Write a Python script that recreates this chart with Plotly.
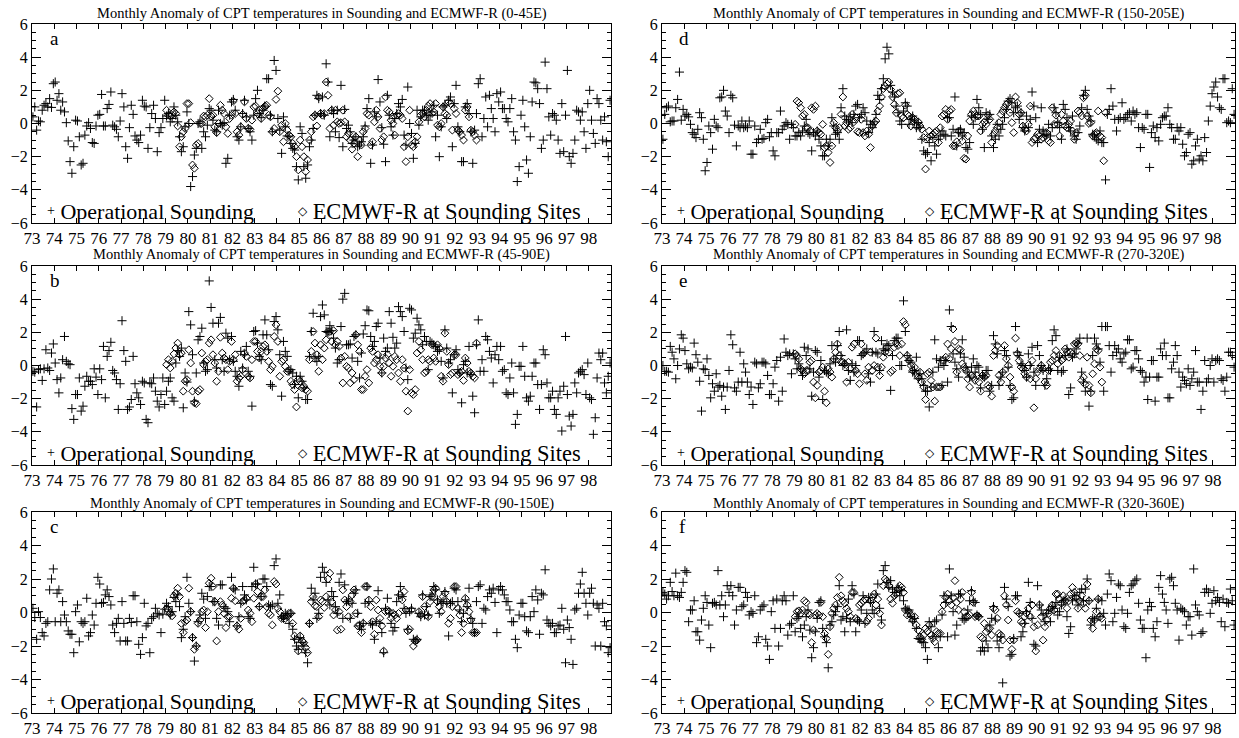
import plotly.graph_objects as go

# ---------------- data (monthly anomalies, K) ----------------
snd_start = 73          # Operational sounding: Jan 1973 ...
era_start = 79          # ECMWF-R: Jan 1979 ...
year_ticks = list(range(73, 99))
year_labels = [str(y) for y in year_ticks]
y_ticks = [-6, -4, -2, 0, 2, 4, 6]

snd_a = [
 0.4, 1.0, -0.4, 0.15, 0.1, 0.8, 1.1, 1.2, 1.0, 1.5, 0.97, 2.4,
 2.5, 1.4, 1.8, 0.8, 1.3, 0.7, 0.05, -1.05, -2.3, -3.0, -1.4, 0.2,
 0.15, -0.8, -2.5, -2.4, -0.7, -0.15, 0.05, -0.3, -1.15, -1.2, -0.15, 0.5,
 0.55, 1.75, -0.15, -0.15, 0.9, 1.15, 1.9, -0.1, -0.2, -0.35, -0.8, 0.15,
 1.8, 1.0, -1.4, -2.1, -0.25, 1.1, 0.55, -0.75, -1.0, -1.15, -0.7, 1.4,
 1.05, 1.0, -1.5, -0.25, 0.6, 1.1, 0.3, -1.7, -0.55, -0.25, 0.3, 1.4,
 0.45, 0.6, 0.1, 0.3, 1.0, 0.5, 0.1, -0.8, -1.7, -1.4, -0.2, 0.7,
 0.0, -3.8, -3.2, -1.9, -1.5, 0.0, 0.1, -1.5, -0.5, -0.8, -0.1, 0.9,
 0.8, 0.2, -0.4, -0.5, 0.8, 0.0, -0.1, 0.05, -2.4, -2.1, 0.5, 1.3,
 1.45, 0.8, -0.8, -1.0, -0.2, 0.6, 1.4, 0.4, -0.3, -0.5, -1.0, 0.5,
 1.5, 2.0, 0.6, 0.35, 0.8, 1.05, 2.7, 2.7, 0.5, -0.5, 3.8, 3.2,
 0.3, -0.4, -1.8, 0.4, -0.2, -0.75, -0.8, -1.2, -1.5, -1.6, -2.6, -3.4,
 -0.2, -0.6, -2.6, -3.3, -2.5, -1.4, -1.0, -0.3, 0.5, 1.7, 1.5, 0.6,
 1.6, 0.5, 3.6, 2.5, -0.8, 0.8, 0.6, -0.5, 0.8, -0.85, 2.3, -1.4,
 0.85, -0.3, -0.1, -0.5, -1.2, -1.0, -0.8, -1.4, -1.3, -1.1, -0.8, -0.15,
 0.9, 1.5, -2.4, -1.3, 0.7, 0.4, 2.65, 1.3, -0.25, -1.25, -2.3, 1.7,
 0.5, -0.2, -0.7, 0.3, 0.6, 1.2, 1.0, 1.45, -0.7, -1.3, 2.2, 0.0,
 -0.6, -2.1, -1.2, 0.8, -0.1, 0.4, 0.8, 0.8, 0.5, 0.2, 0.5, 0.7,
 1.1, -0.8, 0.5, -2.0, -0.2, 1.0, 1.1, 0.3, 1.4, 1.6, -1.4, 1.2,
 2.3, -0.2, -0.5, -2.3, -2.3, 1.0, 1.2, 0.6, -0.5, -2.4, -0.4, 0.6,
 2.4, 2.7, -0.8, 0.3, 1.6, -0.2, 1.7, 0.9, 0.3, -0.5, 1.8, 1.3,
 1.9, 0.9, 0.9, 0.3, 0.1, 0.9, 1.5, -0.5, -1.0, -3.5, -2.6, 0.5,
 1.4, -0.2, -2.2, -3.0, -0.8, 1.3, 2.5, 2.45, 2.1, 1.2, -1.5, -1.0,
 3.7, 2.1, 0.4, -0.7, 0.6, 0.5, 0.2, -1.0, -1.8, 1.2, -1.7, 0.5,
 3.2, -2.0, -2.4, -1.8, -1.0, 0.8, 0.7, 0.2, 0.7, -0.5, -1.5, 1.2,
 2.0, 0.2, -0.6, -1.2, 1.5, 1.2, 0.2, -1.0, 0.4, -1.1, -2.0, 1.4,
]
era_a = [
 0.8, 0.5, 0.45, 0.5, 0.7, 0.6, -0.15, -1.4, -0.8, -0.5, -0.3, 1.2,
 1.2, 0.05, -2.5, -2.7, -1.3, -1.2, 0.0, 0.0, 0.45, 0.4, 0.5, 1.5,
 0.45, 0.5, -0.2, -0.55, 0.0, 1.1, 0.8, 0.6, -0.2, -0.6, 0.3, 0.5,
 1.35, 0.6, -0.5, -0.7, -0.2, 0.55, 1.3, 0.3, -0.3, -0.35, 0.2, 1.0,
 1.05, 0.6, 0.8, 0.3, 0.9, 1.05, 1.1, 0.5, 0.4, -0.5, -0.3, 1.45,
 1.95, -0.5, -0.1, -1.1, 0.0, -0.4, -0.7, -0.8, -1.2, -1.4, -2.0, -2.8,
 -1.0, -1.4, -2.0, -2.9, -2.2, -1.0, -0.5, 0.4, 0.5, -0.15, 1.6, 0.6,
 0.5, 0.6, 2.5, 1.7, -0.3, 0.8, -0.1, 0.8, 0.1, 0.0, 0.05, 0.8,
 0.1, -0.8, -0.6, -1.0, -1.55, -1.2, -0.8, -2.0, -1.0, -1.3, -0.5, -0.3,
 0.6, 0.5, -1.3, -1.1, 0.1, 0.8, 0.4, -0.3, -1.0, -0.8, 1.6, 0.8,
 0.7, 0.2, 0.0, -0.7, 0.5, 0.6, 0.5, 0.3, -1.4, -2.3, -0.8, 0.8,
 -1.3, -1.4, -1.1, -0.8, 0.1, 0.5, 0.6, 0.4, 0.8, 1.05, 1.2, 0.6,
 0.7, 1.2, -0.1, -0.2, 0.0, 1.0, 0.6, 0.5, 1.3, 1.2, -0.4, 0.9,
 0.6, -0.4, -0.5, -0.7, -1.0, 0.8, 1.0, 0.4, -0.4, -0.5, -0.7, -1.0,
]

snd_b = [
 -0.35, -0.4, -2.5, -0.25, -0.2, -0.9, -0.2, 0.95, -0.15, -0.3, 0.75, 1.3,
 0.15, -0.85, -1.65, -0.75, 0.35, 1.75, 0.25, 0.1, 0.05, -2.6, -3.25, -1.75,
 -1.75, -0.75, -2.75, -2.45, -1.25, -0.65, -0.95, -0.95, -1.15, -0.2, -0.7, -1.75,
 -0.2, -0.85, 1.15, -1.95, 0.55, 0.9, 1.4, -0.3, -0.45, -0.85, -2.65, -1.1,
 2.7, 0.9, 0.25, -2.65, -2.5, -2.05, 0.55, -1.1, -1.65, -1.95, -2.35, -0.95,
 -1.05, -3.25, -3.45, -1.05, -1.1, -0.75, -1.55, -2.15, -2.5, -1.75, -0.75, -2.35,
 -1.55, -0.95, -0.75, -1.95, -2.15, 0.15, 0.9, 0.55, 1.05, -2.55, -0.45, -1.0,
 3.25, 2.45, 0.65, -2.15, -0.45, 1.55, 1.75, 2.25, 0.15, -0.35, -0.25, 5.1,
 3.5, 2.55, 0.35, -0.15, 2.55, 2.9, 0.35, -0.35, 1.95, 1.65, 0.35, 1.75,
 0.25, -0.35, -0.65, -1.25, 0.85, -0.15, 0.65, 1.15, -0.35, -0.65, -2.45, 2.05,
 2.1, 1.35, 0.55, 0.35, 1.85, 2.75, 1.85, 0.95, -1.15, -1.25, 2.65, 2.95,
 2.15, 0.65, -1.85, 1.45, 0.85, 0.55, -0.35, -0.25, -0.45, -1.15, -0.65, -1.95,
 -0.65, -0.95, -1.35, -2.05, -2.05, 0.55, 2.05, 3.15, 0.45, 0.25, 0.55, 2.95,
 3.65, 3.05, 2.05, 2.0, 2.4, 2.1, 1.65, 1.05, 0.15, 0.35, 2.35, 4.0,
 4.35, 1.25, 1.25, 1.3, 0.45, 1.75, 1.85, 0.25, -0.75, 0.75, 1.9, 2.4,
 3.35, 3.3, 1.75, 1.15, 1.45, 2.35, 2.55, 0.45, -0.45, 1.65, 0.85, 1.05,
 3.25, 2.55, 1.7, 1.05, 1.35, 3.55, 3.25, 2.95, 2.05, -0.15, -0.85, 3.45,
 3.35, 1.65, 1.95, 2.85, 2.45, 2.15, 1.25, 1.75, 1.45, -0.25, 1.45, 1.35,
 1.25, 1.15, 0.85, 0.95, 0.25, -0.75, 2.15, 1.05, 0.15, 0.35, -1.65, 0.65,
 0.95, -0.25, -0.45, -2.25, 0.05, 0.25, -0.45, 1.15, -0.55, -1.85, -2.85, 1.25,
 2.75, -0.35, 0.35, -0.35, 1.75, 1.55, 0.85, 0.45, -1.05, 0.65, 1.15, 0.35,
 1.15, -0.35, -0.25, -1.65, -1.75, -0.75, 0.15, -1.65, -3.55, -2.95, -0.05, -0.05,
 1.15, -0.65, -1.95, -2.15, -1.85, -0.65, 0.15, 0.15, -1.15, -2.65, -1.15, 0.95,
 0.65, -1.05, -1.95, -1.95, -1.55, -2.65, -2.95, -1.95, -1.55, -3.95, -1.25, 1.75,
 -1.75, -3.05, -3.65, -2.95, -1.05, -1.65, -0.45, -0.35, -0.25, -0.55, -1.75, 0.15,
 -1.95, -2.05, -4.15, -3.15, -0.75, 0.75, 0.35, 0.75, -1.05, -1.65, -0.65, 0.15,
]
era_b = [
 0.05, 0.35, -0.15, 0.25, 0.7, 1.05, 1.35, 0.65, 0.75, -1.55, -0.95, -0.85,
 0.95, 0.15, -1.55, -2.25, -2.3, -1.55, -1.45, 0.75, 0.05, 0.25, 0.35, 1.35,
 1.55, 0.65, 0.15, -0.95, -0.35, 1.7, 0.75, 0.45, 0.35, -0.25, 0.25, 1.45,
 0.35, 0.65, -0.95, -0.75, -0.65, -0.25, 0.75, 0.55, -0.65, -0.75, 0.35, 1.45,
 1.45, 0.85, 0.45, 0.85, 1.15, 1.25, 0.85, 0.25, -0.25, -0.05, 1.75, 2.45,
 1.45, -0.65, 0.25, 0.35, -0.05, -0.35, -0.3, -0.95, -1.15, -1.45, -2.5, -0.85,
 -0.95, -1.35, -1.25, -1.45, -1.55, 0.35, 0.85, 2.05, 1.35, 0.65, -0.35, 1.25,
 0.35, 1.05, 1.55, 2.05, 2.05, 1.45, 2.1, 1.25, 1.45, 1.15, 0.45, -1.05,
 0.55, -0.05, -0.15, -1.05, -0.45, -0.85, 1.85, 1.25, 0.85, -1.45, -1.45, -0.65,
 -0.25, -1.05, 1.05, 0.85, 0.15, 0.35, 0.65, -0.05, -0.45, -0.05, 0.45, 0.65,
 0.15, -0.65, -0.05, 0.55, 0.35, -0.45, -0.95, 0.35, -0.15, -1.55, -2.75, -0.25,
 -1.65, -1.75, -1.45, 0.75, 1.45, 0.95, 0.35, -0.45, -0.35, 0.35, 0.25, 1.25,
 0.45, 0.25, 1.25, 1.05, -0.65, -0.95, 1.95, 0.85, 0.05, -0.55, -0.45, 0.65,
 0.65, -0.55, -0.45, -0.35, -0.9, 0.45, 0.15, -0.35, -0.45, -0.65, -0.75, 1.35,
]

snd_c = [
 0.25, -0.3, -1.6, 0.05, -0.3, -1.2, -1.4, -0.65, -0.55, 1.35, 2.0, 2.6,
 -0.55, 1.15, 1.35, -0.55, 0.65, -0.15, -0.55, -1.1, -1.3, -1.3, -2.4, 0.05,
 0.45, -1.75, -0.55, -0.65, -0.55, 0.85, -1.4, -1.2, -0.15, -0.75, 0.55, 2.1,
 1.7, 0.55, 0.6, 1.05, 1.35, 0.95, 0.45, -0.75, -1.2, -0.65, -0.35, -1.7,
 0.65, -0.65, -1.7, -1.7, -0.35, -0.6, 1.0, 1.0, -0.55, -1.9, -2.5, -1.5,
 0.55, -0.8, -0.65, -2.4, -0.35, -0.25, 0.25, -0.05, -0.15, -1.2, -0.1, 0.2,
 0.55, 0.35, -0.15, 0.05, 0.9, 0.65, 1.05, 0.35, -1.5, -1.0, -0.25, 2.1,
 0.55, 0.05, -1.5, -2.9, -2.0, -0.55, -0.15, 1.15, 0.8, -0.35, 0.95, 1.55,
 1.55, 0.65, 0.65, -0.35, -0.75, 1.65, 1.65, 0.35, 0.25, 0.05, -0.55, 2.1,
 1.45, 1.35, -0.8, -0.25, 0.55, 1.55, 1.05, 0.75, -0.25, -0.35, 1.55, 2.7,
 1.7, 1.7, 0.35, 0.95, 2.0, 2.0, 1.55, 0.45, 0.35, 0.45, 2.8, 3.2,
 0.55, 1.05, -0.25, -0.35, -0.05, -0.15, -0.65, -0.05, -1.0, -1.6, -2.0, -2.2,
 -1.5, -1.8, -2.0, -2.4, -3.0, -0.65, 1.45, 0.75, 1.15, -0.35, -0.05, 2.1,
 2.7, 2.4, 1.8, 0.75, 0.45, 1.25, 0.95, 0.35, -0.05, 1.8, 2.3, -0.35,
 1.65, 0.65, 0.75, -0.35, 0.55, 1.15, 1.35, -0.05, -0.8, -1.0, -0.65, 0.55,
 1.55, 0.65, -0.65, -0.75, -1.6, -0.55, 1.3, -0.65, -1.2, -2.4, 0.25, 0.85,
 -0.05, -0.65, -1.1, -0.9, 0.65, 1.05, 1.55, 0.95, 0.25, -0.05, -1.0, 0.05,
 0.25, -1.6, -1.7, -1.6, -0.05, -0.25, 1.05, -0.15, 0.35, -0.15, 0.95, 1.05,
 1.55, 1.35, 0.75, -0.05, 0.55, 0.65, 1.25, 0.55, -1.4, 0.55, 0.65, 1.45,
 1.35, 0.65, 0.15, -0.55, -0.05, 0.75, 0.35, 1.45, -0.35, -0.65, -1.2, 0.65,
 1.55, 1.65, -0.65, 0.25, 0.15, 0.95, 1.35, 1.15, 1.45, 0.6, -1.2, 1.35,
 1.55, 1.35, 1.05, 0.65, 0.65, 0.15, -0.55, -0.55, -1.6, -2.1, -0.15, 0.55,
 0.55, -0.25, -1.1, -1.2, -0.25, 0.95, 0.05, 1.35, 0.75, -1.3, 1.15, 1.05,
 2.55, -0.45, -0.65, -0.8, -0.65, -1.2, -1.2, -0.8, -0.75, 0.25, -1.0, -3.0,
 -0.45, -0.9, -1.6, -3.1, 0.15, 0.25, 1.15, 1.7, 2.4, 1.15, 0.55, -0.15,
 1.15, 1.45, 0.55, -2.0, 0.45, 0.25, -2.0, 0.55, -0.55, -0.8, -2.4, -2.1,
]
era_c = [
 0.25, 0.15, -0.05, -0.2, 1.0, 1.15, 1.45, 0.95, -0.65, -1.2, -0.55, -0.45,
 1.45, 0.05, -1.5, -2.2, -2.0, -0.65, -0.45, 0.05, 0.15, -0.9, 0.05, 1.75,
 2.05, 1.55, 0.65, -1.7, 0.05, 0.65, 0.45, -0.05, -0.9, -0.25, -0.25, 0.85,
 1.45, 0.7, -0.8, -1.0, -0.35, 0.65, 0.75, 0.85, 0.15, -0.05, -0.55, 0.85,
 1.7, 1.25, 0.35, 0.95, 0.95, 1.35, 0.35, -0.05, -0.15, -0.75, 1.85, 1.7,
 0.25, 0.05, -0.35, -0.25, -0.35, -0.25, -0.05, -0.05, -0.65, -1.4, -1.6, -2.3,
 -1.4, -1.7, -1.8, -2.1, -2.4, -0.65, 0.65, 0.95, 0.4, 0.35, -0.25, 0.75,
 0.65, 0.3, 0.95, 2.0, 2.35, 0.65, -0.15, 0.15, -1.05, 0.05, -1.0, 1.35,
 0.75, 0.35, -0.25, 0.65, 1.05, 1.35, -0.05, -0.8, -0.75, -1.2, -0.65, 1.55,
 1.55, 0.75, 0.35, -0.55, -1.3, 0.75, 0.15, -0.35, -0.8, -2.3, 0.05, 0.15,
 0.05, -0.35, -0.05, -0.15, -0.35, -0.05, 1.05, 0.75, 1.25, 0.15, -1.1, -1.0,
 0.15, -2.0, -1.7, -1.65, 0.05, -0.15, 0.95, 0.35, -0.15, -0.25, 0.65, 0.95,
 1.35, 1.45, 0.65, 0.35, 0.05, 0.95, 1.15, 0.65, -0.65, -0.35, 0.35, 1.55,
 1.55, 0.25, -0.15, -1.2, -0.65, 0.85, 0.45, 0.05, -0.45, -1.2, -1.2, -1.2,
]

snd_d = [
 -0.95, 0.55, 0.95, 1.05, 0.1, 0.15, 0.15, 0.95, 1.45, 3.1, 0.2, 0.85,
 0.45, 0.55, 0.4, -0.05, -0.55, -0.65, -0.85, -0.35, 0.65, 0.35, -0.95, -2.85,
 -2.35, -0.15, -0.55, -1.55, 0.25, -0.15, -0.25, 1.55, 1.6, 2.0, 0.75, 0.45,
 -0.55, 1.7, 1.55, -0.1, -1.35, -0.15, -0.25, 0.15, -0.25, -0.15, -0.25, 0.15,
 -1.85, -1.85, -0.15, -1.15, -0.95, -0.35, -0.95, -0.9, 0.05, 0.25, -0.8, -0.55,
 -1.65, -1.95, -0.55, -0.55, 0.75, -0.35, -0.15, 0.05, -0.05, -0.95, -0.05, -0.25,
 -0.75, -0.75, -0.55, -0.75, -0.45, -0.15, 0.25, -0.55, -0.65, -1.65, -0.55, -0.75,
 -0.45, -0.95, -1.35, -1.95, -1.95, -0.95, -1.35, -0.95, 0.35, -0.15, -0.65, -0.55,
 -0.95, 0.95, 2.1, 0.45, 0.25, 0.15, 0.4, 0.05, 0.55, 1.05, 1.15, 0.35,
 0.55, 0.95, 0.65, 0.15, -0.55, -0.05, -0.25, 0.1, 0.55, 1.7, 1.45, 2.1,
 2.7, 3.9, 4.6, 4.2, 2.3, 1.9, 1.6, 1.05, 0.65, 0.15, -0.05, 0.75,
 1.25, 1.05, -0.05, 0.25, 0.45, 0.15, -0.25, 0.05, -0.25, -0.95, -1.65, -1.85,
 -1.75, -1.15, -2.25, -0.85, -1.35, -1.85, -0.95, -0.75, -0.45, -0.65, -0.75, 0.35,
 0.35, -0.75, -0.35, 1.6, -1.35, -0.55, -0.35, -0.75, -0.55, -1.45, -1.55, -1.15,
 0.45, -0.05, 0.35, 1.45, 0.95, 0.55, -0.35, -1.45, 0.65, 0.25, 0.55, -0.75,
 -1.45, -0.95, -0.05, -0.75, -0.35, -0.05, 0.35, 0.85, 1.35, 1.5, 1.25, 0.65,
 0.95, 1.05, 0.25, 0.65, -0.25, -0.45, 0.45, -0.25, 0.25, 1.9, 1.05, 0.35,
 -1.15, -0.35, 0.95, -0.45, -0.75, -0.65, -0.05, -0.75, -0.25, 0.95, 0.65, 0.05,
 -0.25, -0.95, 1.15, 0.85, 0.35, -0.25, -0.45, 0.45, -0.75, -0.95, -0.55, -0.15,
 0.95, 1.7, 2.0, 0.85, 0.45, 0.15, -0.65, -0.75, -0.95, -1.05, -0.45, -1.15,
 -1.15, -3.4, 0.55, 0.85, 2.1, 1.05, 0.25, -0.45, 0.25, 0.35, 1.25, 0.25,
 0.35, 0.55, 0.65, 0.15, 0.75, 0.55, 0.65, -0.25, -1.45, -0.25, -0.35, 0.55,
 0.55, -2.65, -0.55, -0.15, -0.85, -0.25, -1.05, -0.05, 0.35, 0.45, 0.45, 0.95,
 -0.05, -0.25, -0.95, -0.95, -0.25, -0.45, -0.25, -1.25, -1.95, -1.75, -0.65, -0.55,
 -2.45, -2.25, -1.35, -0.95, -2.15, -1.95, -2.25, -0.85, -1.75, 0.15, 1.05, 1.8,
 2.2, 2.5, 1.6, 0.95, 0.85, 2.7, 2.7, 0.05, 0.15, 0.05, 2.1, 0.55,
]
era_d = [
 -0.05, 1.35, 1.25, 0.95, 0.45, 0.55, -0.25, -0.25, -0.45, 0.95, 0.85, 1.05,
 -0.45, -0.55, -0.65, -0.05, -1.45, -1.35, -1.75, -2.35, -1.35, 0.05, -0.25, -0.45,
 -0.25, 0.55, 1.6, -0.15, 0.05, -0.35, -0.25, 0.55, 0.1, 0.35, -0.5, -0.55,
 0.25, -0.55, -0.75, -0.45, -0.65, -1.45, -0.15, 0.05, 0.15, 0.75, 1.05, 1.6,
 2.1, 2.25, 2.4, 2.5, 2.05, 1.6, 1.15, 0.65, 1.8, 1.85, 0.45, 0.35,
 1.1, 0.55, 0.45, -0.15, 0.35, 0.25, -0.15, 0.1, -0.15, -0.35, -0.85, -2.75,
 -0.85, -0.45, -0.75, -0.65, -0.55, -0.45, -1.15, -0.25, 0.45, 0.55, 0.85, 0.25,
 0.75, 0.85, -1.35, -1.35, -1.1, -0.45, -0.45, -1.05, -2.1, -2.15, -0.75, 0.15,
 0.55, 0.75, 0.55, 0.45, 0.45, -0.45, -0.05, 0.1, -0.05, 0.5, 0.25, -1.15,
 -0.65, -0.45, -0.25, 0.05, 0.55, 0.75, 0.95, 1.15, 1.25, 0.65, 0.05, -0.55,
 1.6, 1.25, 0.55, 0.65, -0.15, -0.35, -0.45, -0.05, 1.05, -1.15, -0.95, -0.85,
 -0.65, -0.75, -0.95, -0.85, -0.55, -0.55, -1.05, -1.15, 0.95, -0.05, 0.5, -0.05,
 -0.75, 0.55, 0.15, -0.15, -0.25, -0.05, 0.15, -0.45, -0.95, -0.55, 0.75, 0.65,
 0.45, 1.55, 1.7, 0.45, 0.0, 0.05, -0.75, -0.65, -0.55, 0.75, -0.75, -0.85,
 -2.25, 0.65,
]

snd_e = [
 0.0, -0.35, -0.35, -0.4, 1.15, 0.8, 0.4, -0.8, 0.0, 1.0, 1.85, 1.65,
 0.9, 0.1, -0.2, -0.1, -0.15, 1.35, 0.65, 0.2, -0.95, -2.75, -0.2, -0.25,
 0.4, -0.6, -1.95, -1.1, -1.55, -0.5, -1.3, -1.2, -1.85, -1.3, -2.65, -1.3,
 -0.3, 1.85, 1.25, -1.35, -1.55, -1.0, 0.8, -1.0, 0.1, -0.4, -1.0, -1.75,
 -1.3, -2.35, 0.2, 0.1, -1.35, -1.1, 0.2, 0.2, 0.1, -0.6, -1.75, -1.75,
 -1.1, -0.1, 0.3, -2.15, 0.5, -1.55, 1.6, 0.8, 0.6, 0.7, -0.5, 0.7,
 0.4, -0.2, 0.1, -0.2, -0.6, 1.1, 0.6, 1.0, -0.2, -1.85, -0.4, 0.9,
 0.8, -0.7, 0.3, -2.05, -0.3, -0.4, -0.5, 0.1, 1.2, 0.4, 0.2, 1.2,
 2.05, 0.6, 0.0, 0.1, 2.15, -0.3, -0.9, 0.1, -0.4, 0.0, 1.5, 1.5,
 0.6, 0.7, 0.8, 1.0, -0.5, -1.0, 0.8, 2.05, 0.8, 0.7, -0.3, 1.5,
 1.0, 0.9, 1.3, 1.2, -1.5, 0.6, 1.5, 1.65, 1.65, 0.0, 0.0, 3.9,
 2.05, 0.6, 0.3, 0.2, -0.4, -0.3, 0.5, -0.8, -0.5, -0.8, -1.2, -1.55,
 -1.55, -2.5, -1.3, -0.4, 1.55, 0.4, -0.1, 0.3, -1.2, 0.0, 0.3, -1.0,
 3.35, 2.35, 0.7, 0.2, -0.2, -0.7, 0.7, 1.55, 0.5, -0.1, -0.4, -0.7,
 -0.1, 0.4, -0.4, 0.0, -0.1, -1.35, -0.6, -0.7, -0.3, -0.3, -1.55, -1.2,
 1.8, 1.3, 0.7, -1.2, -0.7, -0.4, 0.9, 0.6, -0.1, -1.2, -2.05, -1.95,
 2.35, 0.8, 0.6, 0.1, 0.0, -0.3, -0.7, 0.7, 0.0, 1.1, -0.4, -1.2,
 1.2, 0.6, 0.0, -0.3, -1.2, -0.8, -0.2, -0.3, 1.5, 2.15, 1.8, -0.3,
 0.5, -0.4, -0.3, 0.6, 1.0, -1.75, -1.35, 0.5, 0.7, 1.0, 1.35, 1.65,
 -0.4, -1.0, -1.55, 1.65, -2.45, -1.55, 0.6, 1.65, 1.3, 1.0, 0.2, 2.35,
 -1.55, 2.35, 2.35, 1.2, -0.4, 0.6, 1.2, 0.8, 1.0, 0.4, 0.2, 0.7,
 0.8, 1.55, 1.55, -0.2, -0.1, 0.9, 0.9, 0.4, -0.3, -0.4, -1.0, -0.7,
 -2.05, -0.7, 0.3, 0.3, -2.15, -0.7, -0.7, 1.0, 0.6, 1.35, 0.6, -1.95,
 -1.95, -0.2, 0.2, 1.2, 0.6, -0.4, -1.3, -0.7, -0.9, -1.1, -0.2, -1.2,
 -0.8, -0.4, 0.9, -1.0, -1.0, -2.65, -1.55, 0.3, -1.0, -0.8, 0.0, 0.4,
 -1.0, 0.3, 0.4, 0.3, -0.8, -0.9, -1.55, -0.7, 0.8, 0.8, 0.6, -0.1,
]
era_e = [
 0.7, 0.6, 0.4, -0.2, -0.3, -0.5, -0.3, -0.3, 0.2, 0.3, -1.0, -1.95,
 -1.2, -0.4, -0.3, -0.1, -1.55, -2.25, -0.2, -0.4, -0.7, 0.4, 0.8, 1.3,
 0.6, 0.2, 0.2, 0.1, -1.0, 0.2, -0.2, 1.1, 1.3, -0.3, -0.5, -1.1,
 1.3, 0.7, -0.5, -0.9, -0.1, 0.8, -0.3, 0.0, 1.65, -0.1, -0.6, -0.1,
 0.5, 0.8, 1.1, 0.8, -0.4, -0.3, 1.1, 1.35, 1.2, 0.6, 1.3, 2.65,
 2.45, 0.6, 0.3, 0.0, -0.3, -0.1, -0.5, -0.7, -0.4, -1.0, -1.3, -2.05,
 -0.5, -0.4, -0.9, -1.3, -2.15, -1.3, -1.3, -1.3, 0.3, 0.3, 0.5, 1.3,
 0.4, 1.0, 2.2, 1.45, -0.4, 1.0, 0.95, 0.1, -0.1, -0.3, -0.8, -1.3,
 -0.6, -0.7, -0.9, -0.6, -1.0, -1.55, -0.6, -0.7, -0.6, -1.2, -1.3, -1.85,
 0.6, 0.9, 1.2, -0.6, -1.0, -0.4, 1.2, 0.4, 0.0, -0.7, -1.3, -1.55,
 1.65, 0.7, 0.3, -0.1, -0.2, -0.5, -0.7, 0.0, -0.8, 0.3, -2.55, -0.8,
 -0.4, -0.2, 0.0, -0.2, -1.0, -1.2, -0.3, 0.2, 0.3, 0.6, 0.9, 0.1,
 0.6, 0.3, 0.4, 1.0, 0.8, 0.5, 0.8, 0.7, 1.3, 1.35, 1.3, 0.6,
 -0.9, -0.7, -1.15, 0.5, -1.2, -1.65, -0.5, 0.1, 1.0, 0.9, -0.1, -1.0,
]

snd_f = [
 1.2, 1.1, 0.8, 1.0, 1.8, 1.25, 1.0, 2.35, 1.0, 0.9, 1.2, 1.8,
 2.5, 2.4, -0.55, 0.15, 0.15, 0.7, -1.15, -1.15, -1.65, -0.45, 0.25, 1.0,
 0.6, -0.75, -2.1, 0.55, 0.6, 0.45, 2.5, 0.45, 1.0, -0.25, 0.45, 1.6,
 1.2, 1.6, 1.0, -0.75, 0.15, 1.5, 1.5, 0.35, 0.45, 1.2, 0.9, -0.15,
 0.05, -0.05, 1.0, -1.8, -1.45, 0.15, 0.35, 0.45, -1.6, -2.0, -2.8, 0.05,
 0.7, -0.95, 0.8, -2.0, -0.95, 0.7, 1.0, 0.7, -1.35, -0.75, -0.65, 1.0,
 -1.15, -0.35, -0.25, -0.95, -1.45, -0.75, -0.25, 0.15, -1.05, -2.7, -2.1, -1.15,
 -0.35, 0.6, 0.7, -0.95, -1.45, -1.8, -3.3, -0.75, -0.55, -0.15, 0.05, 0.35,
 1.6, -0.45, -0.25, -1.15, -0.35, 0.8, -0.55, 1.6, 1.1, -1.15, -0.45, -0.55,
 0.15, 1.0, -0.65, -0.05, 0.9, 0.6, 0.15, -0.05, 1.1, 1.7, 0.25, -0.45,
 2.5, 2.8, 1.8, 1.5, 1.9, 1.4, 1.2, 1.2, 1.5, 1.0, 1.3, 0.7,
 0.25, 0.15, 0.15, -0.25, -0.55, -0.35, -0.95, -1.55, -1.6, -1.75, -1.8, -2.1,
 -2.8, -0.55, -0.85, -1.45, -0.55, -0.45, -2.1, -1.45, -0.15, 1.0, 0.6, -1.45,
 2.6, 1.0, 0.05, -1.35, -0.75, 1.1, 1.1, -0.35, -0.45, -0.35, 0.15, 0.7,
 1.3, 0.7, 0.6, -0.15, -0.25, -2.3, -2.1, -2.3, -1.7, -2.1, -0.75, -0.35,
 0.35, -0.45, -1.7, -2.1, -1.45, -4.2, 1.5, 0.8, 0.35, -2.6, -2.5, -1.55,
 1.0, 1.0, -0.05, -1.45, -1.15, -0.65, 0.05, 1.8, 0.6, -0.35, -1.9, -2.0,
 1.6, 0.45, 0.15, -0.15, -0.55, -0.05, 0.15, -0.55, 0.35, 0.25, 0.6, -0.15,
 0.05, 0.45, 0.7, 0.8, -0.25, -1.25, -0.85, 0.7, 1.0, 0.8, 0.45, 1.2,
 1.4, 0.7, 1.4, 2.0, 0.7, -0.75, -0.35, -0.45, 0.25, 0.8, -0.25, 0.7,
 -0.05, -0.75, 1.1, 2.3, 1.9, -0.55, -0.05, 0.9, 1.7, 1.6, 0.15, -0.85,
 -0.95, -0.05, 1.2, 1.6, 1.7, 1.9, 2.0, 0.55, -0.45, -0.95, -0.95, -2.7,
 0.15, 0.6, 0.35, -0.95, -1.45, -0.55, 1.5, 2.2, 1.1, 0.6, 0.15, -0.65,
 2.0, 2.1, 1.6, 0.55, 0.15, -1.65, 0.25, 0.15, 0.05, -0.75, -0.25, -0.25,
 -1.35, 2.6, 0.45, 0.05, -0.15, -1.25, -1.15, 1.2, 1.4, 1.2, -0.05, 0.55,
 1.3, 0.7, 0.9, 0.6, -0.55, 0.8, -0.85, 0.6, 0.55, 1.4, 0.7, -0.75,
]
era_f = [
 -0.25, 0.05, 0.1, -0.05, 0.15, 0.7, 0.6, -0.05, -0.15, -1.8, -1.05, -0.15,
 -0.05, -0.15, 0.6, -0.25, -1.25, -1.55, -2.5, -0.85, -0.05, 0.25, 0.45, 0.9,
 2.1, 1.0, 0.7, 0.55, 0.25, 0.05, -0.25, 1.2, 1.2, -0.35, -0.45, 0.45,
 0.55, 0.7, 0.8, -0.55, -0.35, 0.7, 0.9, 1.1, 0.45, 0.8, -0.05, -0.75,
 1.6, 2.0, 1.9, 1.6, 0.8, 0.55, 1.0, 1.1, 1.4, 1.6, 1.5, 1.2,
 0.15, -0.15, 0.05, -0.15, -0.45, -0.25, -0.75, -1.05, -1.45, -1.6, -1.35, -0.95,
 -1.15, -0.75, -1.35, -1.55, -1.75, -1.15, -1.25, -1.25, 0.05, 0.45, 0.9, 1.1,
 0.7, 0.45, 0.9, 1.9, 0.6, 0.15, 0.8, 1.2, 0.05, -0.25, -0.25, -0.15,
 1.2, 0.6, -0.25, -0.2, -0.25, -1.45, -1.55, -0.65, -1.15, -0.95, -0.95, -1.35,
 0.25, 0.15, -0.35, -1.25, -1.35, -1.65, 1.0, 0.45, -0.45, -1.65, -2.2, -1.65,
 0.7, 0.05, -0.05, -0.55, -0.65, -0.25, -0.05, 0.25, -0.25, 0.45, -0.85, -2.3,
 -0.75, 0.45, -0.25, -1.65, -0.85, -0.45, -0.05, 0.25, 0.45, 0.15, 1.1, 1.1,
 0.8, 0.55, 1.0, 0.7, 0.25, 0.7, 1.1, 1.5, 1.2, 0.9, 0.25, 0.7,
 1.0, 0.55, 0.25, 1.7, 0.7, -0.45, -0.95, -0.45, 0.05, 0.8, -0.25, -0.35,
]

panel_letters = ["a", "b", "c", "d", "e", "f"]
panel_regions = ["0-45E", "45-90E", "90-150E", "150-205E", "270-320E", "320-360E"]
panel_snd = [snd_a, snd_b, snd_c, snd_d, snd_e, snd_f]
panel_era = [era_a, era_b, era_c, era_d, era_e, era_f]

# ---------------- layout ----------------
W, H = 1239, 738
col_x = [(32, 611), (662, 1235)]              # pixel extents of plot frames
row_y = [(24, 223), (266, 465), (512, 713)]   # pixel extents (top, bottom)
title_y = [13, 255, 503]

SERIF = "Liberation Serif"

fig = go.Figure()
layout = dict(
    template="none",
    width=W, height=H, margin=dict(l=0, r=0, t=0, b=0, pad=0),
    paper_bgcolor="white", plot_bgcolor="white", showlegend=False,
    font=dict(family=SERIF, color="black"),
)
annotations = []

for i in range(6):
    col, row = divmod(i, 3)
    n = i + 1
    xa = "xaxis" if n == 1 else f"xaxis{n}"
    ya = "yaxis" if n == 1 else f"yaxis{n}"
    xr = "x" if n == 1 else f"x{n}"
    yr = "y" if n == 1 else f"y{n}"
    x0, x1 = col_x[col]
    top, bot = row_y[row]
    layout[xa] = dict(
        domain=[x0 / W, x1 / W], anchor=yr, range=[73, 99], automargin=False,
        tickmode="array", tickvals=year_ticks, ticktext=year_labels,
        ticks="inside", ticklen=5, tickwidth=1, tickcolor="black",
        showline=True, linecolor="black", linewidth=1, mirror="ticks",
        showgrid=False, zeroline=False,
        tickfont=dict(family=SERIF, size=17, color="black"),
    )
    layout[ya] = dict(
        domain=[1 - bot / H, 1 - top / H], anchor=xr, range=[-6, 6], automargin=False,
        tickmode="array", tickvals=y_ticks,
        ticks="inside", ticklen=9, tickwidth=1, tickcolor="black",
        minor=dict(dtick=0.5, ticks="inside", ticklen=4, tickcolor="black", tickwidth=1),
        showline=True, linecolor="black", linewidth=1, mirror="ticks",
        showgrid=False, zeroline=False,
        tickfont=dict(family=SERIF, size=16, color="black"),
    )

    snd = panel_snd[i]
    era = panel_era[i]
    xs = [snd_start + (k + 0.5) / 12 for k in range(len(snd))]
    xe = [era_start + (k + 0.5) / 12 for k in range(len(era))]
    fig.add_trace(go.Scatter(
        x=xs, y=snd, mode="markers", xaxis=xr, yaxis=yr, name="Operational Sounding",
        marker=dict(symbol="cross-thin", size=6.5, color="black",
                    line=dict(width=1, color="black")),
        hoverinfo="skip"))
    fig.add_trace(go.Scatter(
        x=xe, y=era, mode="markers", xaxis=xr, yaxis=yr, name="ECMWF-R at Sounding Sites",
        marker=dict(symbol="diamond-open", size=6, color="black",
                    line=dict(width=1, color="black")),
        hoverinfo="skip"))

    # panel title
    annotations.append(dict(
        text=f"Monthly Anomaly of CPT temperatures in Sounding and ECMWF-R ({panel_regions[i]})",
        xref="paper", yref="paper", x=(x0 + x1) / 2 / W, y=1 - title_y[row] / H,
        xanchor="center", yanchor="middle", showarrow=False,
        font=dict(family=SERIF, size=14.5, color="black")))
    # panel letter
    annotations.append(dict(
        text=panel_letters[i], xref=xr, yref=yr, x=73.7, y=5.9,
        xanchor="left", yanchor="top", showarrow=False,
        font=dict(family=SERIF, size=19, color="black")))
    # in-plot legend texts
    annotations.append(dict(
        text="<span style='font-size:14px;baseline-shift:4px'>+</span> Operational Sounding",
        xref=xr, yref=yr, x=73.6, y=-5.3, xanchor="left", yanchor="middle",
        showarrow=False, font=dict(family=SERIF, size=22, color="black")))
    annotations.append(dict(
        text="<span style='font-size:12px;baseline-shift:4px'>◇</span> ECMWF-R at Sounding Sites",
        xref=xr, yref=yr, x=84.85, y=-5.3, xanchor="left", yanchor="middle",
        showarrow=False, font=dict(family=SERIF, size=22.5, color="black")))

layout["annotations"] = annotations
fig.update_layout(**layout)
# the page's default 8px body margin would shift the chart; remove it
fig.write_html("out.html", config={"displayModeBar": False},
               post_script="document.body.style.margin='0px';")
